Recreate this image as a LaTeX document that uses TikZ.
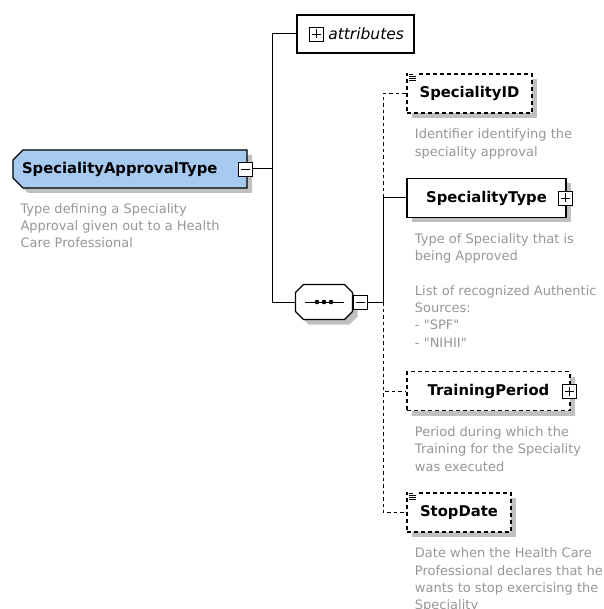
\documentclass[tikz,border=0pt]{standalone}
\usepackage{fontspec}
\setmainfont{DejaVu Sans}
\usetikzlibrary{positioning, shapes.misc, shadows}
\definecolor{typeblue}{RGB}{166,202,240}
\definecolor{shadowgray}{RGB}{192,192,192}
\definecolor{docgray}{RGB}{150,150,150}

\begin{document}
\begin{tikzpicture}[
    x=1pt, y=-1pt,
    line width=1pt,
    boxshadow/.style={drop shadow={shadow xshift=5pt, shadow yshift=-5pt, fill=shadowgray, opacity=1}},
    element/.style={rectangle, draw, fill=white, line width=1.1pt, minimum height=39pt, inner sep=0pt, font=\fontsize{14.8}{17}\selectfont\bfseries, boxshadow},
    optional/.style={element, dash pattern=on 4pt off 3pt},
    rootbox/.style={chamfered rectangle, chamfered rectangle corners={north west,south west}, chamfered rectangle xsep=5pt, chamfered rectangle ysep=5pt, draw, fill=typeblue, line width=1.1pt, minimum width=234pt, minimum height=38pt, text width=216pt, align=left, inner xsep=4pt, inner ysep=0pt, font=\fontsize{14.8}{17}\selectfont\bfseries, boxshadow},
    seqbox/.style={rectangle, minimum width=56pt, minimum height=34pt, inner sep=0pt},
    attrbox/.style={rectangle, draw, fill=white, line width=1.1pt, minimum width=117pt, minimum height=38pt, text width=97pt, align=right, inner xsep=10pt, inner ysep=0pt, font=\fontsize{15.5}{17}\selectfont\itshape},
    signbox/.style={rectangle, draw, fill=white, line width=0.9pt, minimum size=14pt, inner sep=0pt},
    minusbox/.style={signbox, path picture={\draw[line width=0.9pt] ([xshift=2.5pt]path picture bounding box.west) -- ([xshift=-2.5pt]path picture bounding box.east);}},
    plusbox/.style={signbox, path picture={\draw[line width=0.9pt] ([xshift=2.5pt]path picture bounding box.west) -- ([xshift=-2.5pt]path picture bounding box.east) ([yshift=-2.5pt]path picture bounding box.north) -- ([yshift=2.5pt]path picture bounding box.south);}},
    doc/.style={font=\fontsize{13}{17.3}\selectfont, text=docgray, align=left, inner sep=0pt},
    optline/.style={dash pattern=on 3.5pt off 3pt}
  ]
  \useasboundingbox (0,0) rectangle (603,609);

  % complex type
  \node[rootbox] (root) at (130,169) {SpecialityApprovalType};
  \node[minusbox] (rootminus) at ([xshift=-2.5pt]root.east) {};
  \node[doc, anchor=north west] (rootdoc) at (20,203) {Type defining a Speciality\\Approval given out to a Health\\Care Professional};

  % attributes and sequence
  \node[attrbox] (attr) at (355.5,34) {attributes};
  \node[plusbox] (attrplus) at (316,34) {};
  \node[seqbox] (seq) at (324,302) {};
  \draw[line width=1.1pt, fill=white, boxshadow] ([xshift=8pt]seq.north west) -- ([xshift=-8pt]seq.north east) -- ([yshift=-8pt]seq.north east) -- ([yshift=8pt]seq.south east) -- ([xshift=-8pt]seq.south east) -- ([xshift=8pt]seq.south west) -- ([yshift=8pt]seq.south west) -- ([yshift=-8pt]seq.north west) -- cycle;
  \draw ([xshift=9pt]seq.west) -- ([xshift=-9pt]seq.east);
  \foreach \dx in {-7,0,7}
    \fill ([xshift=\dx pt]seq.center) circle (2.3pt);
  \node[minusbox] (seqminus) at (360,302) {};

  % child elements
  \node[optional, minimum width=125pt] (specid) at (469.5,93.5) {SpecialityID};
  \node[doc, below right=15pt and 8pt of specid.south west] (speciddoc) {Identifier identifying the\\speciality approval};

  \node[element, minimum width=159pt] (spectype) at (486.5,198) {SpecialityType};
  \node[plusbox] (typeplus) at ([xshift=-1pt]spectype.east) {};
  \node[doc, below right=15pt and 8pt of spectype.south west] (spectypedoc) {Type of Speciality that is\\being Approved\\[17.3pt]List of recognized Authentic\\Sources:\\- \textquotedbl SPF\textquotedbl\\- \textquotedbl NIHII\textquotedbl};

  \node[optional, minimum width=163pt] (training) at (488.5,391) {TrainingPeriod};
  \node[plusbox] (trainingplus) at ([xshift=-1.5pt]training.east) {};
  \node[doc, below right=15pt and 8pt of training.south west] (trainingdoc) {Period during which the\\Training for the Speciality\\was executed};

  \node[optional, minimum width=104pt] (stopdate) at (459,512.5) {StopDate};
  \node[doc, below right=15pt and 8pt of stopdate.south west] (stopdatedoc) {Date when the Health Care\\Professional declares that he\\wants to stop exercising the\\Speciality};

  % documentation marks
  \foreach \n in {specid, stopdate} {
    \fill[white] ([xshift=2pt,yshift=1.5pt]\n.north west) rectangle ([xshift=11pt,yshift=-8.5pt]\n.north west);
    \draw[line width=0.7pt] ([xshift=3pt,yshift=-0.5pt]\n.north west) -- ++(4pt,0);
    \foreach \dy in {2.5,4.8,7.1}
      \draw[line width=0.7pt] ([xshift=3pt,yshift=-\dy pt]\n.north west) -- ++(7pt,0);
  }

  % connectors
  \coordinate (rootjoin) at (272,169);
  \coordinate (seqjoin) at (383,302);
  \draw (rootminus.east) -- (rootjoin);
  \draw (rootjoin) |- (attr.west);
  \draw (rootjoin) |- (seq.west);
  \draw (seqminus.east) -- (seqjoin);
  \draw (seqjoin) |- (spectype.west);
  \draw[optline] (seqjoin) |- (specid.west);
  \draw[optline] (seqjoin) |- (training.west);
  \draw[optline] (seqjoin) |- (stopdate.west);
\end{tikzpicture}
\end{document}
